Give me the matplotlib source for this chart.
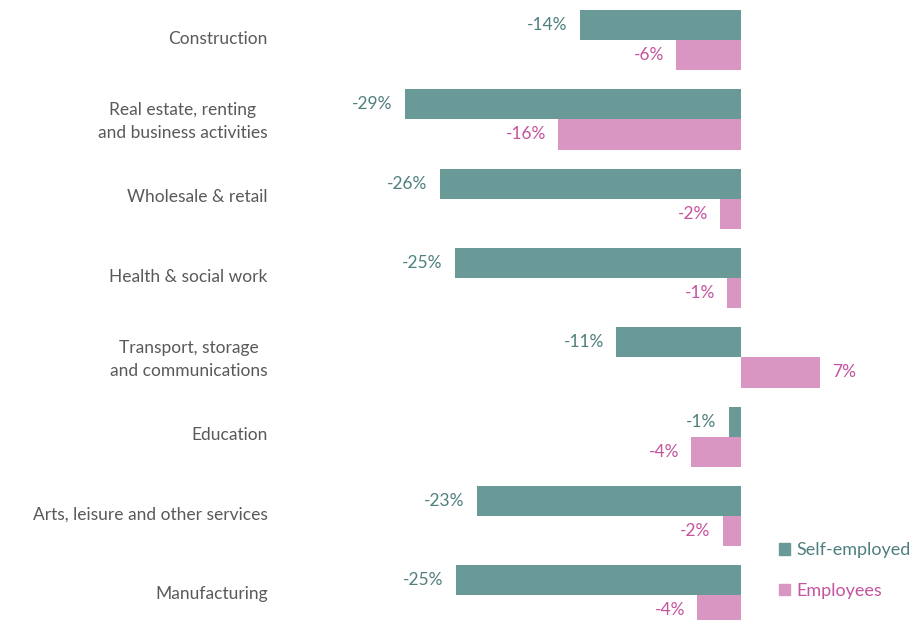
import matplotlib.pyplot as plt
import matplotlib.transforms as mtransforms
from matplotlib.patches import Patch
import numpy as np

plt.rcParams['font.family'] = ['Lato', 'DejaVu Sans']

categories = ["Construction", "Real estate, renting\nand business activities", "Wholesale & retail",
              "Health & social work", "Transport, storage\nand communications", "Education",
              "Arts, leisure and other services", "Manufacturing"]
self_employed = [-13.9, -29.0, -26.0, -24.7, -10.8, -1.1, -22.8, -24.6]
employees = [-5.6, -15.8, -1.8, -1.2, 6.8, -4.3, -1.6, -3.8]

teal = "#6a9a98"
pink = "#d996c3"
teal_txt = "#4f807e"
pink_txt = "#c4549e"

fig = plt.figure(figsize=(9.2, 6.2), dpi=100)
ax = fig.add_axes([0.3, 0.0, 0.7, 1.0])

y = np.arange(len(categories))
h = 0.38
ax.barh(y - h / 2, self_employed, height=h, color=teal)
ax.barh(y + h / 2, employees, height=h, color=pink)

ax.set_xlim(-40.1, 15.4)
ax.set_ylim(7.31, -0.505)

# value labels next to bar ends
off = 1.05
for yy, v in zip(y - h / 2, self_employed):
    ax.text(v - off if v < 0 else v + off, yy, f"{round(v)}%", color=teal_txt, fontsize=12.5,
            va="center", ha="right" if v < 0 else "left")
for yy, v in zip(y + h / 2, employees):
    ax.text(v - off if v < 0 else v + off, yy, f"{round(v)}%", color=pink_txt, fontsize=12.5,
            va="center", ha="right" if v < 0 else "left")

ax.set_yticks(y)
ax.set_yticklabels(categories, fontsize=12.5, color="#595959", multialignment="center",
                   linespacing=1.55)
ax.tick_params(axis="y", length=0, pad=6)
# nudge category labels up a little
shift = mtransforms.ScaledTranslation(0, 3 / 100, fig.dpi_scale_trans)
for lab in ax.get_yticklabels():
    lab.set_transform(lab.get_transform() + shift)
ax.set_xticks([])
for s in ax.spines.values():
    s.set_visible(False)

handles = [Patch(color=teal), Patch(color=pink)]
fig.legend(handles, ["Self-employed", "Employees"], loc="lower right",
           bbox_to_anchor=(1.008, 0.008), frameon=False, fontsize=13,
           labelcolor=[teal_txt, pink_txt], handlelength=0.6, handleheight=0.6,
           handletextpad=0.4, labelspacing=1.35)

fig.savefig("out.png", dpi=100)
